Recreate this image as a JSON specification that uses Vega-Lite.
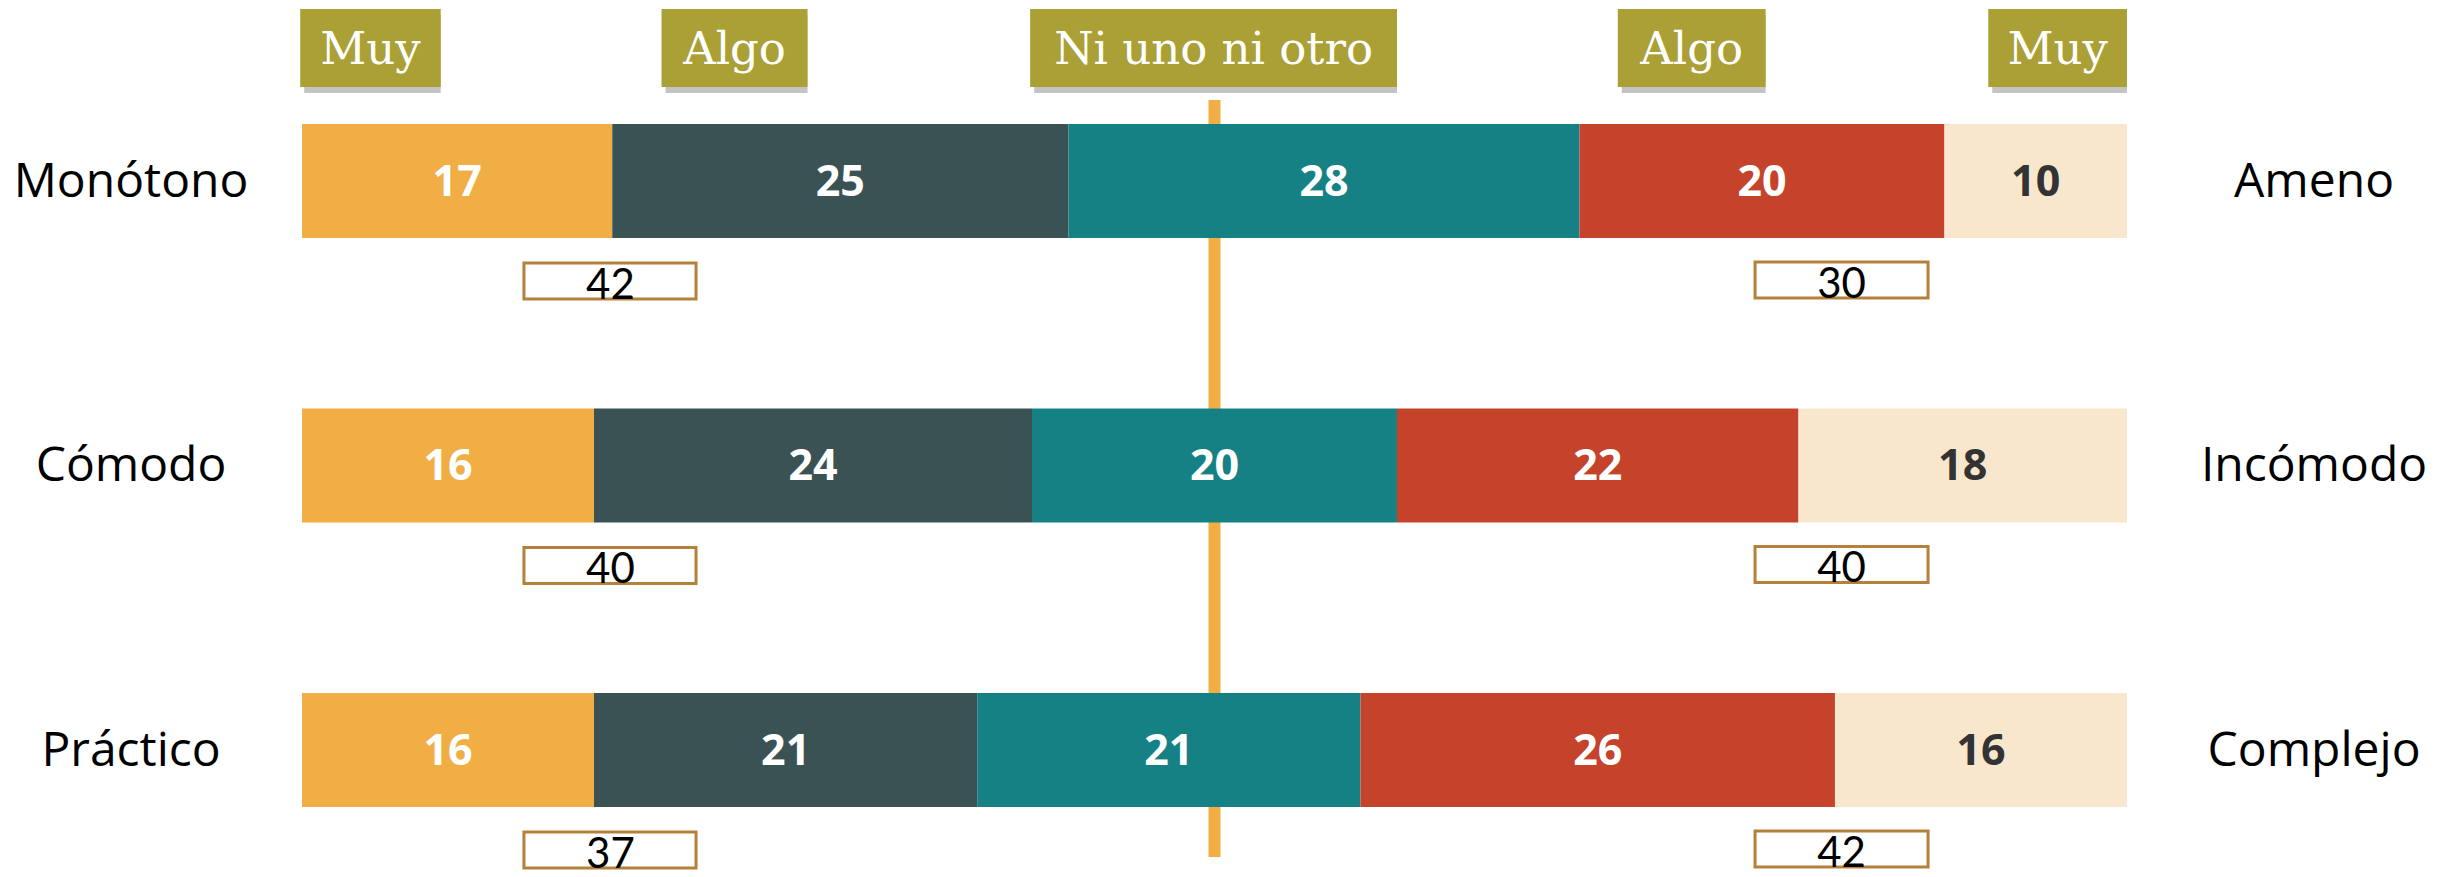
{
  "$schema": "https://vega.github.io/schema/vega-lite/v6.json",
  "width": 2458,
  "height": 877,
  "autosize": {"type": "fit", "contains": "padding"},
  "padding": 0,
  "background": "white",
  "config": {"view": {"stroke": null}},
  "datasets": {
    "barras": [
      {"fila": "Monótono", "cat": "Muy (izq.)", "k": 1, "valor": 17},
      {"fila": "Monótono", "cat": "Algo (izq.)", "k": 2, "valor": 25},
      {"fila": "Monótono", "cat": "Ni uno ni otro", "k": 3, "valor": 28},
      {"fila": "Monótono", "cat": "Algo (der.)", "k": 4, "valor": 20},
      {"fila": "Monótono", "cat": "Muy (der.)", "k": 5, "valor": 10},
      {"fila": "Cómodo", "cat": "Muy (izq.)", "k": 1, "valor": 16},
      {"fila": "Cómodo", "cat": "Algo (izq.)", "k": 2, "valor": 24},
      {"fila": "Cómodo", "cat": "Ni uno ni otro", "k": 3, "valor": 20},
      {"fila": "Cómodo", "cat": "Algo (der.)", "k": 4, "valor": 22},
      {"fila": "Cómodo", "cat": "Muy (der.)", "k": 5, "valor": 18},
      {"fila": "Práctico", "cat": "Muy (izq.)", "k": 1, "valor": 16},
      {"fila": "Práctico", "cat": "Algo (izq.)", "k": 2, "valor": 21},
      {"fila": "Práctico", "cat": "Ni uno ni otro", "k": 3, "valor": 21},
      {"fila": "Práctico", "cat": "Algo (der.)", "k": 4, "valor": 26},
      {"fila": "Práctico", "cat": "Muy (der.)", "k": 5, "valor": 16}
    ],
    "totales": [
      {"fila": "Monótono", "lado": "izq", "total": 42},
      {"fila": "Monótono", "lado": "der", "total": 30},
      {"fila": "Cómodo", "lado": "izq", "total": 40},
      {"fila": "Cómodo", "lado": "der", "total": 40},
      {"fila": "Práctico", "lado": "izq", "total": 37},
      {"fila": "Práctico", "lado": "der", "total": 42}
    ],
    "etiquetas": [
      {"fila": "Monótono", "izq": "Monótono", "der": "Ameno"},
      {"fila": "Cómodo", "izq": "Cómodo", "der": "Incómodo"},
      {"fila": "Práctico", "izq": "Práctico", "der": "Complejo"}
    ],
    "unico": [{}]
  },
  "layer": [
    {
      "data": {"name": "unico"},
      "mark": {"type": "rule", "color": "#F0AE45", "strokeWidth": 12, "yOffset": -81, "y2Offset": 107},
      "encoding": {
        "x": {"datum": 50, "type": "quantitative", "scale": {"domain": [-16.55, 118.14], "nice": false, "zero": false}, "axis": null},
        "y": {"datum": "Monótono", "type": "nominal", "scale": {"type": "band", "domain": ["Monótono", "Cómodo", "Práctico"], "paddingInner": 0.5993, "paddingOuter": 0.341, "align": 0.639}, "axis": null},
        "y2": {"datum": "Práctico"}
      }
    },
    {
      "data": {"name": "barras"},
      "transform": [
        {"stack": "valor", "groupby": ["fila"], "sort": [{"field": "k", "order": "ascending"}], "as": ["x0", "x1"]}
      ],
      "mark": {"type": "bar"},
      "encoding": {
        "x": {"field": "x0", "type": "quantitative", "scale": {"domain": [-16.55, 118.14], "nice": false, "zero": false}, "axis": null},
        "x2": {"field": "x1"},
        "y": {"field": "fila", "type": "nominal", "scale": {"type": "band", "domain": ["Monótono", "Cómodo", "Práctico"], "paddingInner": 0.5993, "paddingOuter": 0.341, "align": 0.639}, "axis": null},
        "color": {
          "field": "cat",
          "type": "nominal",
          "scale": {
            "domain": ["Muy (izq.)", "Algo (izq.)", "Ni uno ni otro", "Algo (der.)", "Muy (der.)"],
            "range": ["#F0AE45", "#3A5254", "#168184", "#C5422B", "#F9E7CD"]
          },
          "legend": null
        }
      }
    },
    {
      "data": {"name": "barras"},
      "transform": [
        {"stack": "valor", "groupby": ["fila"], "sort": [{"field": "k", "order": "ascending"}], "as": ["x0", "x1"]},
        {"calculate": "(datum.x0 + datum.x1) / 2", "as": "xm"}
      ],
      "mark": {"type": "text", "font": "Open Sans", "fontWeight": "bold", "fontSize": 43, "align": "center", "baseline": "alphabetic", "yOffset": 15},
      "encoding": {
        "x": {"field": "xm", "type": "quantitative"},
        "y": {"field": "fila", "type": "nominal"},
        "text": {"field": "valor", "type": "quantitative"},
        "fill": {"condition": {"test": "datum.k === 5", "value": "#333333"}, "value": "#FFFFFF"}
      }
    },
    {
      "data": {"name": "etiquetas"},
      "layer": [
        {
          "mark": {"type": "text", "font": "Open Sans", "fontSize": 48, "align": "center", "baseline": "alphabetic", "yOffset": 16, "fill": "#000000"},
          "encoding": {"x": {"datum": -9.37}, "y": {"field": "fila", "type": "nominal"}, "text": {"field": "izq"}}
        },
        {
          "mark": {"type": "text", "font": "Open Sans", "fontSize": 48, "align": "center", "baseline": "alphabetic", "yOffset": 16, "fill": "#000000"},
          "encoding": {"x": {"datum": 110.25}, "y": {"field": "fila", "type": "nominal"}, "text": {"field": "der"}}
        }
      ]
    },
    {
      "data": {"name": "totales"},
      "transform": [{"filter": "datum.lado === 'izq'"}],
      "layer": [
        {
          "mark": {"type": "bar", "fill": "#FFFFFF", "stroke": "#B5813A", "strokeWidth": 3, "size": 36, "yOffset": 100},
          "encoding": {"x": {"datum": 12.16}, "x2": {"datum": 21.59}, "y": {"field": "fila", "type": "nominal"}}
        },
        {
          "mark": {"type": "text", "font": "Lato", "fontSize": 42, "align": "center", "baseline": "alphabetic", "yOffset": 118, "fill": "#000000"},
          "encoding": {"x": {"datum": 16.9}, "y": {"field": "fila", "type": "nominal"}, "text": {"field": "total", "type": "quantitative"}}
        }
      ]
    },
    {
      "data": {"name": "totales"},
      "transform": [{"filter": "datum.lado === 'der'"}],
      "layer": [
        {
          "mark": {"type": "bar", "fill": "#FFFFFF", "stroke": "#B5813A", "strokeWidth": 3, "size": 36, "yOffset": 99},
          "encoding": {"x": {"datum": 79.62}, "x2": {"datum": 89.1}, "y": {"field": "fila", "type": "nominal"}}
        },
        {
          "mark": {"type": "text", "font": "Lato", "fontSize": 42, "align": "center", "baseline": "alphabetic", "yOffset": 117, "fill": "#000000"},
          "encoding": {"x": {"datum": 84.36}, "y": {"field": "fila", "type": "nominal"}, "text": {"field": "total", "type": "quantitative"}}
        }
      ]
    },
    {
      "data": {"name": "unico"},
      "layer": [
        {"mark": {"type": "bar", "fill": "#555555", "opacity": 0.35, "size": 78, "xOffset": 4, "yOffset": -127}, "encoding": {"x": {"datum": -0.1}, "x2": {"datum": 7.6}, "y": {"datum": "Monótono"}}},
        {"mark": {"type": "bar", "fill": "#AAA036", "size": 78, "yOffset": -133}, "encoding": {"x": {"datum": -0.1}, "x2": {"datum": 7.6}, "y": {"datum": "Monótono"}}},
        {"mark": {"type": "text", "text": "Muy", "font": "DejaVu Serif", "fontSize": 45, "fill": "#FFFFFF", "align": "center", "baseline": "alphabetic", "yOffset": -117}, "encoding": {"x": {"datum": 3.75}, "y": {"datum": "Monótono"}}},

        {"mark": {"type": "bar", "fill": "#555555", "opacity": 0.35, "size": 78, "xOffset": 4, "yOffset": -127}, "encoding": {"x": {"datum": 19.7}, "x2": {"datum": 27.7}, "y": {"datum": "Monótono"}}},
        {"mark": {"type": "bar", "fill": "#AAA036", "size": 78, "yOffset": -133}, "encoding": {"x": {"datum": 19.7}, "x2": {"datum": 27.7}, "y": {"datum": "Monótono"}}},
        {"mark": {"type": "text", "text": "Algo", "font": "DejaVu Serif", "fontSize": 45, "fill": "#FFFFFF", "align": "center", "baseline": "alphabetic", "yOffset": -117}, "encoding": {"x": {"datum": 23.7}, "y": {"datum": "Monótono"}}},

        {"mark": {"type": "bar", "fill": "#555555", "opacity": 0.35, "size": 78, "xOffset": 4, "yOffset": -127}, "encoding": {"x": {"datum": 39.9}, "x2": {"datum": 60}, "y": {"datum": "Monótono"}}},
        {"mark": {"type": "bar", "fill": "#AAA036", "size": 78, "yOffset": -133}, "encoding": {"x": {"datum": 39.9}, "x2": {"datum": 60}, "y": {"datum": "Monótono"}}},
        {"mark": {"type": "text", "text": "Ni uno ni otro", "font": "DejaVu Serif", "fontSize": 45, "fill": "#FFFFFF", "align": "center", "baseline": "alphabetic", "yOffset": -117}, "encoding": {"x": {"datum": 49.95}, "y": {"datum": "Monótono"}}},

        {"mark": {"type": "bar", "fill": "#555555", "opacity": 0.35, "size": 78, "xOffset": 4, "yOffset": -127}, "encoding": {"x": {"datum": 72.1}, "x2": {"datum": 80.2}, "y": {"datum": "Monótono"}}},
        {"mark": {"type": "bar", "fill": "#AAA036", "size": 78, "yOffset": -133}, "encoding": {"x": {"datum": 72.1}, "x2": {"datum": 80.2}, "y": {"datum": "Monótono"}}},
        {"mark": {"type": "text", "text": "Algo", "font": "DejaVu Serif", "fontSize": 45, "fill": "#FFFFFF", "align": "center", "baseline": "alphabetic", "yOffset": -117}, "encoding": {"x": {"datum": 76.15}, "y": {"datum": "Monótono"}}},

        {"mark": {"type": "bar", "fill": "#555555", "opacity": 0.35, "size": 78, "xOffset": 4, "yOffset": -127}, "encoding": {"x": {"datum": 92.4}, "x2": {"datum": 100}, "y": {"datum": "Monótono"}}},
        {"mark": {"type": "bar", "fill": "#AAA036", "size": 78, "yOffset": -133}, "encoding": {"x": {"datum": 92.4}, "x2": {"datum": 100}, "y": {"datum": "Monótono"}}},
        {"mark": {"type": "text", "text": "Muy", "font": "DejaVu Serif", "fontSize": 45, "fill": "#FFFFFF", "align": "center", "baseline": "alphabetic", "yOffset": -117}, "encoding": {"x": {"datum": 96.2}, "y": {"datum": "Monótono"}}}
      ]
    }
  ]
}
